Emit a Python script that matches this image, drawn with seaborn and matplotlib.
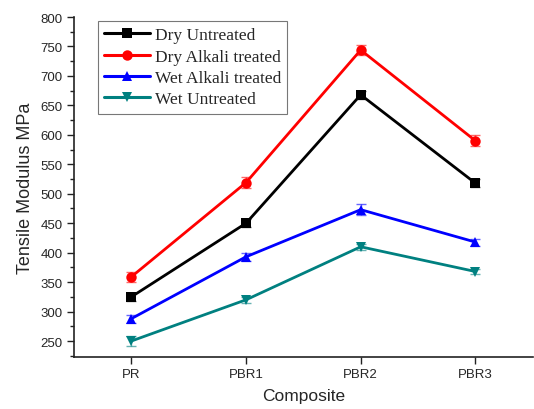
import matplotlib
matplotlib.use("Agg")
import matplotlib.pyplot as plt
import seaborn as sns
import pandas as pd
from matplotlib.ticker import MultipleLocator

categories = ["PR", "PBR1", "PBR2", "PBR3"]
series = ["Dry Untreated", "Dry Alkali treated", "Wet Alkali treated", "Wet Untreated"]
dry_untreated = [325, 450, 668, 518]
dry_alkali = [359, 519, 744, 590]
wet_alkali = [288, 393, 473, 418]
wet_untreated = [250, 320, 410, 368]
err_dry_untreated = [7, 7, 7, 7]
err_dry_alkali = [8, 9, 9, 9]
err_wet_alkali = [7, 7, 9, 6]
err_wet_untreated = [8, 5, 5, 5]

colors = {"Dry Untreated": "#000000", "Dry Alkali treated": "#FF0000",
          "Wet Alkali treated": "#0000FF", "Wet Untreated": "#008080"}
markers = {"Dry Untreated": "s", "Dry Alkali treated": "o",
           "Wet Alkali treated": "^", "Wet Untreated": "v"}

values = [dry_untreated, dry_alkali, wet_alkali, wet_untreated]
errors = [err_dry_untreated, err_dry_alkali, err_wet_alkali, err_wet_untreated]

rows = []
for s, vals in zip(series, values):
    for i, (c, v) in enumerate(zip(categories, vals)):
        rows.append({"Composite": c, "pos": i, "value": v, "series": s})
df = pd.DataFrame(rows)

sns.set_style("ticks")
fig = plt.figure(figsize=(5.34, 4.10), dpi=100)
ax = fig.add_axes([0.1386, 0.127, 0.859, 0.829])

sns.lineplot(data=df, x="pos", y="value", hue="series", style="series",
             hue_order=series, style_order=series, palette=colors,
             markers=markers, dashes=False, linewidth=2.0, markersize=7.5,
             markeredgewidth=0, ax=ax)

for s, vals, errs in zip(series, values, errors):
    ax.errorbar(range(len(categories)), vals, yerr=errs, fmt="none",
                ecolor=colors[s], elinewidth=1.0, capsize=3.5, capthick=1.0,
                alpha=0.6, zorder=1)

ax.set_xlim(-0.5, 3.5)
ax.set_ylim(223, 800)
ax.set_xticks(range(len(categories)))
ax.set_xticklabels(categories)
ax.yaxis.set_major_locator(MultipleLocator(50))
ax.yaxis.set_minor_locator(MultipleLocator(25))
ax.set_yticks(range(250, 801, 50))

sans = ["Liberation Sans", "DejaVu Sans"]
for lab in ax.get_xticklabels() + ax.get_yticklabels():
    lab.set_fontfamily(sans)
    lab.set_fontsize(9.5)
ax.set_xlabel("Composite", fontsize=12.5, family=sans, labelpad=6)
ax.set_ylabel("Tensile Modulus MPa", fontsize=13, family=sans, labelpad=5)

ax.tick_params(axis="both", which="major", direction="out", length=5, width=1,
               color="#222222", pad=3)
ax.tick_params(axis="y", which="minor", direction="out", length=3, width=1,
               color="#222222")
for sp in ["top", "right"]:
    ax.spines[sp].set_visible(False)
for sp in ["left", "bottom"]:
    ax.spines[sp].set_linewidth(1.2)
    ax.spines[sp].set_color("#222222")

handles, labels = ax.get_legend_handles_labels()
leg = ax.legend(handles, labels, loc="upper left", bbox_to_anchor=(0.053, 0.988),
                prop={"family": ["Liberation Serif", "DejaVu Serif"], "size": 12.5},
                frameon=True, fancybox=False, edgecolor="#555555",
                handlelength=2.6, handletextpad=0.3, borderpad=0.35,
                labelspacing=0.3, borderaxespad=0)
leg.get_frame().set_linewidth(0.8)
for h in leg.legend_handles:
    h.set_linewidth(2.2)

fig.savefig("out.png", dpi=100)
